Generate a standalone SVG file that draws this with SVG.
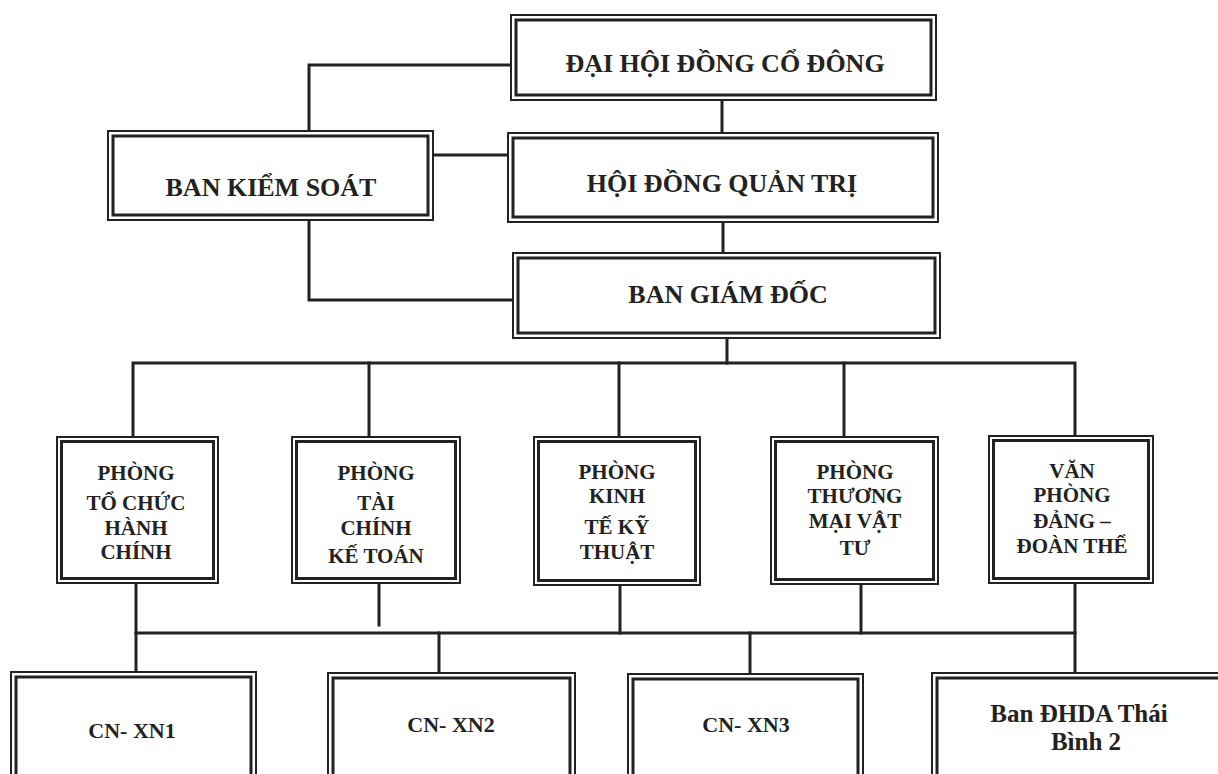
<svg xmlns="http://www.w3.org/2000/svg" width="1218" height="774" viewBox="0 0 1218 774">
<style>
.o{fill:#fff;stroke:#222;stroke-width:2}
.i{fill:none;stroke:#222;stroke-width:3}
.c{fill:none;stroke:#222;stroke-width:3;stroke-linecap:square}
text{font-family:"Liberation Serif","Times New Roman",serif;font-weight:bold;fill:#222;text-anchor:middle}
.big{font-size:26px}
.mid{font-size:21px}
.bot{font-size:22px}
.bot2{font-size:25px}
</style>
<rect width="1218" height="774" fill="#fff"/>
<g id="connectors">
<path class="c" d="M511 65 H309 V131"/>
<path class="c" d="M433 155 H508"/>
<path class="c" d="M309 220 V300 H513"/>
<path class="c" d="M722 100 V133"/>
<path class="c" d="M723 222 V253"/>
<path class="c" d="M727 338 V363"/>
<path class="c" d="M133 437 V363 H1075 V436"/>
<path class="c" d="M369 363 V437"/>
<path class="c" d="M619 363 V437"/>
<path class="c" d="M844 363 V437"/>
<path class="c" d="M136 583 V672"/>
<path class="c" d="M379 583 V625"/>
<path class="c" d="M620 585 V633"/>
<path class="c" d="M861 584 V633"/>
<path class="c" d="M1075 583 V673"/>
<path class="c" d="M136 633 H1075"/>
<path class="c" d="M439 633 V673"/>
<path class="c" d="M750 633 V674"/>
</g>
<g id="dhdcd">
<rect class="o" x="511" y="15" width="425" height="85"/>
<rect class="i" x="516" y="20" width="415" height="75"/>
<text class="big" x="725" y="72">ĐẠI HỘI ĐỒNG CỔ ĐÔNG</text>
</g>
<g id="bks">
<rect class="o" x="108" y="131" width="325" height="89"/>
<rect class="i" x="113" y="136" width="315" height="79"/>
<text class="big" x="271" y="196">BAN KIỂM SOÁT</text>
</g>
<g id="hdqt">
<rect class="o" x="508" y="133" width="430" height="89"/>
<rect class="i" x="513" y="138" width="420" height="79"/>
<text class="big" x="722" y="192">HỘI ĐỒNG QUẢN TRỊ</text>
</g>
<g id="bgd">
<rect class="o" x="513" y="253" width="427" height="85"/>
<rect class="i" x="518" y="258" width="417" height="75"/>
<text class="big" x="728" y="303">BAN GIÁM ĐỐC</text>
</g>
<g id="tchc">
<rect class="o" x="57" y="437" width="161" height="146"/>
<rect class="i" x="61.5" y="441.5" width="152" height="137"/>
<text class="mid" x="136" y="480">PHÒNG</text>
<text class="mid" x="136" y="510">TỔ CHỨC</text>
<text class="mid" x="136" y="535">HÀNH</text>
<text class="mid" x="136" y="559">CHÍNH</text>
</g>
<g id="tckt">
<rect class="o" x="292" y="437" width="168" height="146"/>
<rect class="i" x="296.5" y="441.5" width="159" height="137"/>
<text class="mid" x="376" y="480">PHÒNG</text>
<text class="mid" x="376" y="510">TÀI</text>
<text class="mid" x="376" y="535">CHÍNH</text>
<text class="mid" x="376" y="563">KẾ TOÁN</text>
</g>
<g id="ktkt">
<rect class="o" x="534" y="437" width="166" height="148"/>
<rect class="i" x="538.5" y="441.5" width="157" height="139"/>
<text class="mid" x="617" y="479">PHÒNG</text>
<text class="mid" x="617" y="503">KINH</text>
<text class="mid" x="617" y="534">TẾ KỸ</text>
<text class="mid" x="617" y="559">THUẬT</text>
</g>
<g id="tmvt">
<rect class="o" x="771" y="437" width="167" height="147"/>
<rect class="i" x="775.5" y="441.5" width="158" height="138"/>
<text class="mid" x="855" y="479">PHÒNG</text>
<text class="mid" x="855" y="503">THƯƠNG</text>
<text class="mid" x="855" y="528">MẠI VẬT</text>
<text class="mid" x="855" y="555">TƯ</text>
</g>
<g id="vpdt">
<rect class="o" x="989" y="436" width="164" height="147"/>
<rect class="i" x="993.5" y="440.5" width="155" height="138"/>
<text class="mid" x="1072" y="478">VĂN</text>
<text class="mid" x="1072" y="502">PHÒNG</text>
<text class="mid" x="1072" y="528">ĐẢNG –</text>
<text class="mid" x="1072" y="553">ĐOÀN THỂ</text>
</g>
<g id="xn1">
<rect class="o" x="11" y="672" width="245" height="120"/>
<rect class="i" x="16" y="677" width="235" height="110"/>
<text class="bot" x="132" y="738">CN- XN1</text>
</g>
<g id="xn2">
<rect class="o" x="328" y="673" width="247" height="120"/>
<rect class="i" x="333" y="678" width="237" height="110"/>
<text class="bot" x="451" y="732">CN- XN2</text>
</g>
<g id="xn3">
<rect class="o" x="628" y="674" width="235" height="120"/>
<rect class="i" x="633" y="679" width="225" height="110"/>
<text class="bot" x="746" y="732">CN- XN3</text>
</g>
<g id="bandhda">
<rect class="o" x="932" y="673" width="300" height="120"/>
<rect class="i" x="937" y="678" width="290" height="110"/>
<text class="bot2" x="1079" y="722">Ban ĐHDA Thái</text>
<text class="bot2" x="1086" y="750">Bình 2</text>
</g>
</svg>
